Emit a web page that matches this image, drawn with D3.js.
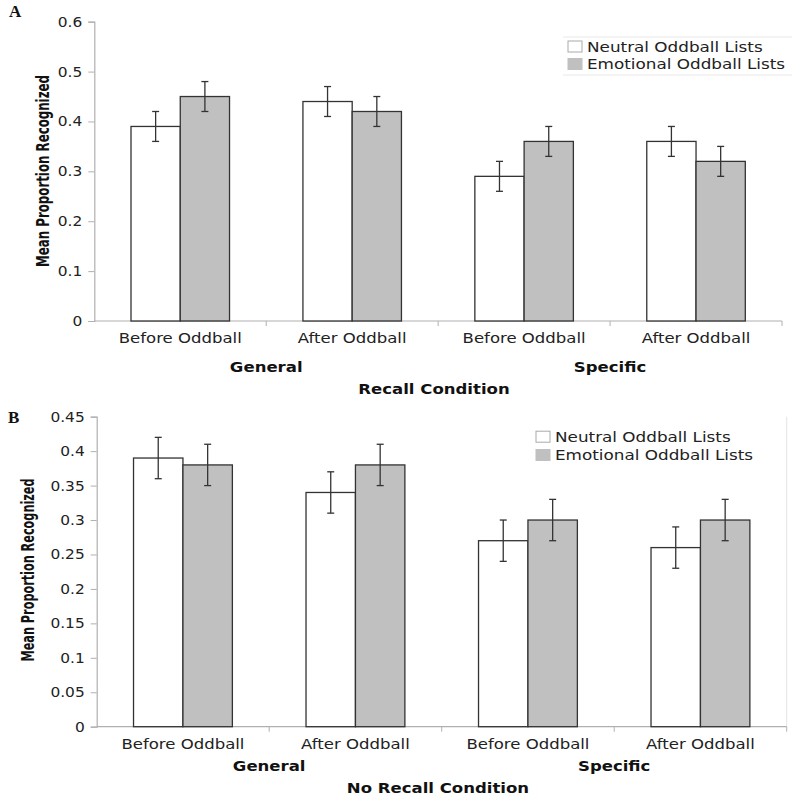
<!DOCTYPE html>
<html><head><meta charset="utf-8">
<script src="https://cdn.jsdelivr.net/npm/d3@7"></script>
<style>
body{margin:0;background:#fff;}
svg{display:block;}
</style></head>
<body>
<svg id="chart" width="800" height="800"></svg>
<script>
// ---------- data ----------
const categories = ["Before Oddball", "After Oddball", "Before Oddball", "After Oddball"];
const groupNames = ["General", "Specific"];
const seriesNames = ["Neutral Oddball Lists", "Emotional Oddball Lists"];
const seriesColors = ["#ffffff", "#c0c0c0"];

// Panel A: Recall Condition
const recallNeutral = [0.39, 0.44, 0.29, 0.36];
const recallEmotional = [0.45, 0.42, 0.36, 0.32];
const recallNeutralErr = [0.03, 0.03, 0.03, 0.03];
const recallEmotionalErr = [0.03, 0.03, 0.03, 0.03];
const recallTicks = [0, 0.1, 0.2, 0.3, 0.4, 0.5, 0.6];

// Panel B: No Recall Condition
const noRecallNeutral = [0.39, 0.34, 0.27, 0.26];
const noRecallEmotional = [0.38, 0.38, 0.30, 0.30];
const noRecallNeutralErr = [0.03, 0.03, 0.03, 0.03];
const noRecallEmotionalErr = [0.03, 0.03, 0.03, 0.03];
const noRecallTicks = [0, 0.05, 0.1, 0.15, 0.2, 0.25, 0.3, 0.35, 0.4, 0.45];

const svg = d3.select("#chart");
const FONT = "DejaVu Sans, Verdana, sans-serif";
const STRETCH = 1.18;

function stretch(sel, k) {
  sel.each(function () {
    const len = this.getComputedTextLength();
    d3.select(this).attr("textLength", len * k).attr("lengthAdjust", "spacingAndGlyphs");
  });
}

function drawPanel(o) {
  const g = svg.append("g");
  const x = d3.scaleBand().domain(d3.range(categories.length)).range([o.left, o.right]).padding(0);
  const xs = d3.scaleBand().domain([0, 1]).range([0, x.bandwidth()]).paddingInner(0).paddingOuter(0.745);
  const y = d3.scaleLinear().domain([0, d3.max(o.ticks)]).range([o.bottom, o.top]);

  if (o.rightBorder) {
    g.append("line").attr("x1", o.right).attr("x2", o.right).attr("y1", o.top).attr("y2", o.bottom)
      .attr("stroke", "#e4e4e4").attr("stroke-width", 1);
  }

  // y axis
  const yAxis = g.append("g").attr("transform", `translate(${o.left},0)`)
    .call(d3.axisLeft(y).tickValues(o.ticks).tickSize(6).tickPadding(6).tickFormat(d => String(+d.toFixed(2))));
  yAxis.select(".domain").attr("stroke", "#b0b0b0").attr("stroke-width", 1.2);
  yAxis.selectAll(".tick line").attr("stroke", "#b0b0b0");
  yAxis.selectAll(".tick text").attr("font-family", FONT).attr("font-size", 14).attr("fill", "#222")
    .call(stretch, 1.1);

  // x axis
  const xAxis = g.append("g").attr("transform", `translate(0,${o.bottom})`);
  xAxis.append("line").attr("x1", o.left).attr("x2", o.right).attr("stroke", "#b0b0b0").attr("stroke-width", 1.2);
  const bounds = d3.range(categories.length + 1).map(i => i < categories.length ? x(i) : x(i - 1) + x.bandwidth());
  xAxis.selectAll("line.tk").data(bounds.slice(1)).join("line").attr("class", "tk")
    .attr("x1", d => d).attr("x2", d => d).attr("y1", 0).attr("y2", 5).attr("stroke", "#b0b0b0");
  xAxis.selectAll("text.cat").data(categories).join("text").attr("class", "cat")
    .attr("x", (d, i) => x(i) + x.bandwidth() / 2).attr("y", o.catY - o.bottom)
    .attr("text-anchor", "middle").attr("dominant-baseline", "central")
    .attr("font-family", FONT).attr("font-size", 14).attr("fill", "#222").text(d => d)
    .call(stretch, STRETCH);
  xAxis.selectAll("text.grp").data(groupNames).join("text").attr("class", "grp")
    .attr("x", (d, i) => x(i * 2) + x.bandwidth())
    .attr("y", o.grpY - o.bottom).attr("text-anchor", "middle").attr("dominant-baseline", "central")
    .attr("font-family", FONT).attr("font-size", 14).attr("font-weight", "bold").attr("fill", "#111").text(d => d)
    .call(stretch, STRETCH);
  g.append("text").attr("x", o.titleX).attr("y", o.titleY)
    .attr("text-anchor", "middle").attr("dominant-baseline", "central")
    .attr("font-family", FONT).attr("font-size", 14).attr("font-weight", "bold").attr("fill", "#111").text(o.title)
    .call(stretch, STRETCH);

  // y label
  g.append("text").attr("transform", `translate(${o.ylabX},${o.ylabY}) rotate(-90)`)
    .attr("text-anchor", "middle").attr("dominant-baseline", "central")
    .attr("font-family", "Liberation Sans Narrow, Arial Narrow, DejaVu Sans Condensed, sans-serif")
    .attr("font-stretch", "condensed")
    .attr("font-size", 17).attr("font-weight", "bold").attr("fill", "#111")
    .attr("textLength", o.ylabLen).attr("lengthAdjust", "spacingAndGlyphs")
    .text("Mean Proportion Recognized");

  // bars
  const series = [o.neutral, o.emotional];
  const errs = [o.neutralErr, o.emotionalErr];
  series.forEach((vals, s) => {
    g.selectAll(null).data(vals).join("rect")
      .attr("x", (d, i) => x(i) + xs(s)).attr("width", xs.bandwidth())
      .attr("y", d => y(d)).attr("height", d => o.bottom - y(d))
      .attr("fill", seriesColors[s]).attr("stroke", "#333").attr("stroke-width", 1.3);
  });
  series.forEach((vals, s) => {
    vals.forEach((v, i) => {
      const cx = x(i) + xs(s) + xs.bandwidth() / 2;
      const e = errs[s][i];
      const eg = g.append("g").attr("stroke", "#333").attr("stroke-width", 1.3);
      eg.append("line").attr("x1", cx).attr("x2", cx).attr("y1", y(v + e)).attr("y2", y(v - e));
      eg.append("line").attr("x1", cx - 3.5).attr("x2", cx + 3.5).attr("y1", y(v + e)).attr("y2", y(v + e));
      eg.append("line").attr("x1", cx - 3.5).attr("x2", cx + 3.5).attr("y1", y(v - e)).attr("y2", y(v - e));
    });
  });

  // legend
  const lg = g.append("g");
  if (o.legendBox) {
    lg.append("line").attr("x1", o.legendBox[0]).attr("x2", o.legendBox[1]).attr("y1", o.legendBox[2]).attr("y2", o.legendBox[2]).attr("stroke", "#e8e8e8");
    lg.append("line").attr("x1", o.legendBox[0]).attr("x2", o.legendBox[1]).attr("y1", o.legendBox[3]).attr("y2", o.legendBox[3]).attr("stroke", "#e8e8e8");
  }
  seriesNames.forEach((nm, s) => {
    const ly = o.legendY[s];
    lg.append("rect").attr("x", o.legendX).attr("y", ly - 5.5).attr("width", 14).attr("height", 11)
      .attr("fill", seriesColors[s]).attr("stroke", s === 0 ? "#aaa" : "#c0c0c0");
    lg.append("text").attr("x", o.legendX + 19).attr("y", ly).attr("dominant-baseline", "central")
      .attr("font-family", FONT).attr("font-size", 14).attr("fill", "#222").text(nm)
      .call(stretch, 1.2);
  });

  // panel letter
  g.append("text").attr("x", o.letterX).attr("y", o.letterY)
    .attr("font-family", "Liberation Serif, Times New Roman, serif").attr("font-weight", "bold")
    .attr("font-size", 17).attr("fill", "#111").text(o.letter);
}

drawPanel({
  letter: "A", letterX: 9, letterY: 17,
  left: 94.3, right: 782, top: 21.7, bottom: 321,
  ticks: recallTicks,
  neutral: recallNeutral, emotional: recallEmotional,
  neutralErr: recallNeutralErr, emotionalErr: recallEmotionalErr,
  catY: 338, grpY: 366.5, title: "Recall Condition", titleX: 434, titleY: 389,
  ylabX: 43, ylabY: 171, ylabLen: 192,
  legendX: 568, legendY: [46.5, 64], legendBox: [563, 792, 37, 75],
  rightBorder: false
});

drawPanel({
  letter: "B", letterX: 8, letterY: 423,
  left: 96.7, right: 786.7, top: 416.7, bottom: 726.7,
  ticks: noRecallTicks,
  neutral: noRecallNeutral, emotional: noRecallEmotional,
  neutralErr: noRecallNeutralErr, emotionalErr: noRecallEmotionalErr,
  catY: 744, grpY: 766.5, title: "No Recall Condition", titleX: 438, titleY: 788,
  ylabX: 28, ylabY: 570, ylabLen: 183,
  legendX: 536, legendY: [436.7, 455], legendBox: null,
  rightBorder: true
});
</script>
</body></html>
